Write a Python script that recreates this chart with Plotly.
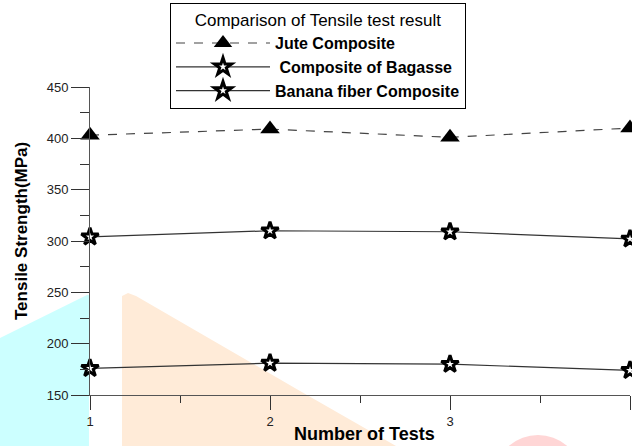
import plotly.graph_objects as go

tests = [1, 2, 3, 4]
jute = [403, 409, 401, 410]
bagasse = [304, 310, 309, 302]
banana = [176, 181, 180, 174]

x_ticks = [1, 2, 3, 4]
y_ticks = [150, 200, 250, 300, 350, 400, 450]

W, H = 632, 446
L, R, T, B = 90, 2, 87, 51
pw, ph = W - L - R, H - T - B

def px(x):
    return (x - L) / pw

def py(y):
    return (H - B - y) / ph

def poly(pts):
    d = "M " + " L ".join(f"{px(a):.4f},{py(b):.4f}" for a, b in pts) + " Z"
    return d

fig = go.Figure()

line_col = "#333333"
star_marker = dict(symbol="star", size=13, color="white", line=dict(color="black", width=3))
fig.add_trace(go.Scatter(
    x=tests, y=jute, name="Jute Composite", mode="lines+markers",
    line=dict(color="#444444", width=1.2, dash="dash"),
    marker=dict(symbol="triangle-up", size=17, color="black"),
    cliponaxis=False))
fig.add_trace(go.Scatter(
    x=tests, y=bagasse, name=" Composite of Bagasse", mode="lines+markers",
    line=dict(color=line_col, width=1.2),
    marker=star_marker, cliponaxis=False))
fig.add_trace(go.Scatter(
    x=tests, y=banana, name="Banana fiber Composite", mode="lines+markers",
    line=dict(color=line_col, width=1.2),
    marker=star_marker, cliponaxis=False))

shapes = [
    dict(type="path", xref="paper", yref="paper", layer="below",
         path=poly([(0, 338), (87, 295), (89, 295), (89, 446), (0, 446)]),
         fillcolor="#CCFFFF", line=dict(width=0)),
    dict(type="path", xref="paper", yref="paper", layer="below",
         path=poly([(122, 446), (122, 296), (128, 293), (136, 296), (300, 391), (396, 446)]),
         fillcolor="#FFEBD8", line=dict(width=0)),
    dict(type="circle", xref="paper", yref="paper", layer="below",
         x0=px(498), x1=px(578), y0=py(435), y1=py(505),
         fillcolor="#FFD6D6", line=dict(width=0)),
]

annotations = [
    dict(text="<b>Number of Tests</b>", xref="paper", yref="paper",
         x=px(364), y=py(434), xanchor="center", yanchor="middle", showarrow=False,
         font=dict(family="Arial, Liberation Sans", size=18, color="black")),
    dict(text="<b>Tensile Strength(MPa)</b>", xref="paper", yref="paper",
         x=px(21), y=py(231), xanchor="center", yanchor="middle", showarrow=False,
         textangle=-90,
         font=dict(family="Arial, Liberation Sans", size=17, color="black")),
]

fig.update_layout(
    width=W, height=H,
    margin=dict(l=L, r=R, t=T, b=B),
    paper_bgcolor="white", plot_bgcolor="rgba(0,0,0,0)",
    font=dict(family="Arial, Liberation Sans", color="#222222"),
    shapes=shapes,
    annotations=annotations,
    showlegend=True,
    legend=dict(
        x=px(170), y=py(3), xanchor="left", yanchor="top",
        bgcolor="white", bordercolor="black", borderwidth=1,
        font=dict(family="Arial, Liberation Sans", size=16, color="black", weight="bold"),
        title=dict(text="Comparison of Tensile test result", side="top center",
                   font=dict(family="Arial, Liberation Sans", size=17, color="black", weight="normal")),
        itemwidth=94, tracegroupgap=0,
    ),
    xaxis=dict(
        range=[1, 4], tickvals=x_ticks, ticktext=[str(v) for v in x_ticks],
        automargin=False,
        showgrid=False, zeroline=False, showline=True, linecolor="#555555", linewidth=1,
        ticks="outside", ticklen=14, tickcolor="#333333", tickwidth=1,
        minor=dict(dtick=0.5, ticks="outside", ticklen=7, tickcolor="#333333"),
        tickfont=dict(size=13, color="#222222"),
    ),
    yaxis=dict(
        range=[150, 450], tickvals=y_ticks, ticktext=[str(v) for v in y_ticks],
        automargin=False,
        showgrid=False, zeroline=False, showline=True, linecolor="#555555", linewidth=1,
        ticks="outside", ticklen=18, tickcolor="#333333", tickwidth=1,
        minor=dict(dtick=25, ticks="outside", ticklen=9, tickcolor="#333333"),
        tickfont=dict(size=13, color="#222222"),
    ),
)

fig.write_html(
    "out.html",
    config={"displayModeBar": False},
    post_script="document.body.style.margin='0';document.body.style.overflow='hidden';",
)
